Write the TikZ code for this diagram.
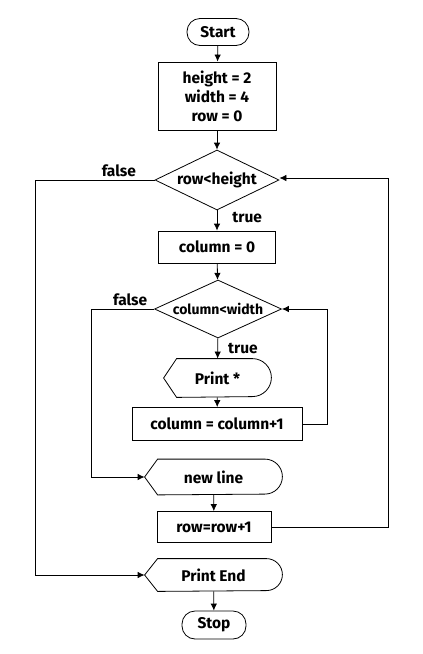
\documentclass[tikz,border=0pt]{standalone}
\usepackage{fontspec}
\setmainfont{Fira Sans}
\usetikzlibrary{arrows,arrows.meta,positioning,shapes.geometric}
\newcommand{\drawdisplay}[2]{%
  \draw (#1.west) -- ([xshift=13pt]#1.north west) -- ([xshift=-#2pt]#1.north east)
    arc[start angle=90, end angle=-90, radius=#2pt] -- ([xshift=13pt]#1.south west) -- cycle;}

\begin{document}
\begin{tikzpicture}[x=1pt,y=-1pt,line width=0.8pt,
  >={Latex[length=7pt,width=6.5pt]},
  font=\bfseries\fontsize{15.5}{19}\selectfont,
  term/.style={draw, rounded corners=13pt},
  proc/.style={draw, rectangle, align=center},
  dec/.style={draw, diamond, aspect=2.2, inner sep=0pt},
  display/.style={rectangle, inner sep=0pt},
  lbl/.style={inner sep=1pt}]
\useasboundingbox (0,0) rectangle (423,654);
\node[term, minimum width=62pt, minimum height=27pt] (start) at (218,32) {Start};
\node[proc, minimum width=118pt, minimum height=68pt] (init) at (217,96) {height = 2\\width = 4\\row = 0};
\node[dec, minimum width=124pt, minimum height=60pt] (rowtest) at (217,180) {row<height};
\node[proc, minimum width=117pt, minimum height=32pt] (colzero) at (217,247) {column = 0};
\node[dec, minimum width=127pt, minimum height=58pt, font=\bfseries\fontsize{14}{17}\selectfont] (coltest) at (218,309) {column<width};
\node[display, minimum width=107pt, minimum height=38pt] (printstar) at (217.5,378) {Print *};
\node[proc, minimum width=170pt, minimum height=33pt] (colinc) at (217,424) {column = column+1};
\node[display, minimum width=137pt, minimum height=35pt] (newline) at (213.5,477) {new line};
\node[proc, minimum width=114pt, minimum height=31pt] (rowinc) at (214,527) {row=row+1};
\node[display, minimum width=137pt, minimum height=32pt] (printend) at (213.5,575) {Print End};
\node[term, minimum width=64pt, minimum height=28pt] (stop) at (214,625) {Stop};
\drawdisplay{printstar}{19}
\drawdisplay{newline}{17.5}
\drawdisplay{printend}{16}
%
\draw[->] (start) to (init);
\draw[->] (init) to (rowtest);
\draw[->] (rowtest) to node[lbl, pos=0.33, right=14pt] {true} (colzero);
\draw[->] (colzero) to (coltest);
\draw[->] (coltest) to node[lbl, pos=0.48, right=9pt] {true} (printstar);
\draw[->] (printstar) to (colinc);
\draw[->] (colinc.east) -- ++(25,0) |- (coltest.east);
\draw[->] (coltest.west) -- node[lbl, above=2pt, pos=0.38] {false} ++(-63,0) |- (newline.west);
\draw[->] (newline) to (rowinc);
\draw[->] (rowinc.east) -- ++(117,0) |- ([yshift=2pt]rowtest.east);
\draw[->] (rowtest.west) -- node[lbl, above=2pt, pos=0.3] {false} ++(-119,0) |- (printend.west);
\draw[->] (printend) to (stop);
\end{tikzpicture}
\end{document}
